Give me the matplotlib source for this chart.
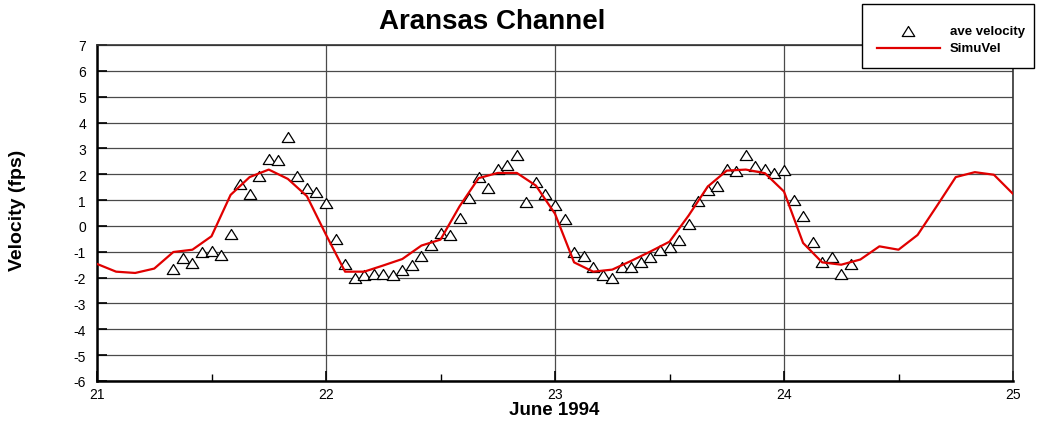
import numpy as np
import matplotlib
matplotlib.use("Agg")
import matplotlib.pyplot as plt
from matplotlib.lines import Line2D
from matplotlib.patches import Rectangle
from matplotlib.path import Path

plt.rcParams['font.family'] = ['Liberation Sans', 'DejaVu Sans']
plt.rcParams['axes.unicode_minus'] = False

# observed velocity, hourly, starting at hour 8 of June 21
obs_hours = np.arange(8, 80)
obs_vel = [-1.67, -1.25, -1.43, -1.02, -0.98, -1.11, -0.32, 1.63, 1.25, 1.93, 2.57, 2.55,
           3.44, 1.95, 1.48, 1.31, 0.88, -0.50,
           -1.49, -2.03, -1.90, -1.85, -1.85, -1.90, -1.71, -1.50, -1.18, -0.72, -0.28, -0.37,
           0.31, 1.07, 1.89, 1.47, 2.21, 2.36, 2.75, 0.92, 1.71, 1.24, 0.81, 0.27,
           -1.00, -1.15, -1.60, -1.90, -2.02, -1.60, -1.60, -1.41, -1.21, -0.93, -0.80, -0.53,
           0.08, 0.96, 1.40, 1.56, 2.21, 2.12, 2.75, 2.31, 2.21, 2.05, 2.18, 1.02,
           0.38, -0.63, -1.41, -1.21, -1.86, -1.47]

# simulated velocity, every 2 hours from June 21 00:00
sim_hours = np.arange(0, 97, 2)
sim_vel = [-1.47, -1.77, -1.82, -1.65, -1.01, -0.92, -0.40, 1.20, 1.89, 2.18, 1.82, 1.15,
           -0.34, -1.77, -1.77, -1.53, -1.28, -0.76, -0.53, 0.76, 1.85, 2.05, 2.05, 1.56,
           0.47, -1.41, -1.77, -1.69, -1.35, -0.99, -0.61, 0.40, 1.52, 2.14, 2.18, 2.04,
           1.33, -0.66, -1.41, -1.50, -1.30, -0.79, -0.92, -0.35, 0.76, 1.89, 2.08, 1.98, 1.24]

obs_t = 21 + obs_hours / 24.0
sim_t = 21 + sim_hours / 24.0

W, H = 1038, 427
fig = plt.figure(figsize=(W / 100, H / 100), dpi=100)

def fx(x):
    return x / W

def fy(y):
    return 1 - y / H

ax = fig.add_axes([fx(97), fy(382), fx(1013) - fx(97), fy(46) - fy(382)])

# flattened open triangle
tri = Path([(-1, -0.8), (1, -0.8), (0, 0.8), (-1, -0.8)], closed=True)
ax.plot(obs_t, obs_vel, linestyle='none', marker=tri, markersize=9,
        markerfacecolor='white', markeredgecolor='black', markeredgewidth=0.9, zorder=3)
ax.plot(sim_t, sim_vel, color='#e00000', linewidth=1.6, zorder=4)

ax.set_xlim(21, 25)
ax.set_ylim(-6, 7)
ax.set_xticks([21, 22, 23, 24, 25])
ax.set_xticks([21.5, 22.5, 23.5, 24.5], minor=True)
ax.set_yticks(range(-6, 8))
ax.grid(True, which='major', color='#4a4a4a', linewidth=0.9)
ax.set_axisbelow(True)

ax.tick_params(axis='y', direction='in', length=7, width=1.2, labelsize=10, pad=8)
ax.tick_params(axis='x', which='major', direction='in', length=7, width=1.2, labelsize=10, pad=4)
ax.tick_params(axis='x', which='minor', direction='in', length=5, width=1)

for s in ['left', 'bottom']:
    ax.spines[s].set_linewidth(1.8)
    ax.spines[s].set_color('black')
for s in ['top', 'right']:
    ax.spines[s].set_linewidth(1.2)
    ax.spines[s].set_color('#333333')

fig.text(fx(492), fy(22), 'Aransas Channel', fontsize=20, fontweight='bold',
         ha='center', va='center')
fig.text(fx(554), fy(411), 'June 1994', fontsize=13.5, fontweight='bold',
         ha='center', va='center')
fig.text(fx(18), fy(210), 'Velocity (fps)', fontsize=14, fontweight='bold',
         ha='center', va='center', rotation=90)

# legend box
fig.add_artist(Rectangle((fx(862), fy(69)), fx(1034) - fx(862), fy(5) - fy(69),
                         transform=fig.transFigure, facecolor='white',
                         edgecolor='black', linewidth=1, zorder=10))
fig.add_artist(Line2D([fx(908)], [fy(32)], transform=fig.transFigure, marker=tri,
                      markersize=9, markerfacecolor='white', markeredgecolor='black',
                      markeredgewidth=0.9, linestyle='none', zorder=11))
fig.add_artist(Line2D([fx(877), fx(940)], [fy(49), fy(49)], transform=fig.transFigure,
                      color='#e00000', linewidth=1.6, zorder=11))
fig.text(fx(950), fy(32), 'ave velocity', fontsize=9.5, fontweight='bold',
         ha='left', va='center', zorder=12)
fig.text(fx(950), fy(49), 'SimuVel', fontsize=9.5, fontweight='bold',
         ha='left', va='center', zorder=12)

fig.savefig('out.png', dpi=100)
